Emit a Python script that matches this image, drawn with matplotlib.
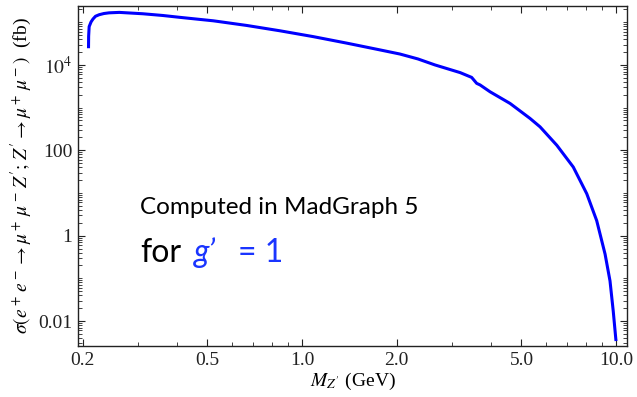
import matplotlib
matplotlib.use("Agg")
import matplotlib.pyplot as plt
from matplotlib.ticker import FixedLocator, NullFormatter, FixedFormatter

# cross section vs Z' mass
mass = [0.209, 0.2092, 0.21, 0.213, 0.216, 0.22, 0.226, 0.234, 0.243, 0.262, 0.311, 0.36,
        0.409, 0.522, 0.667, 0.851, 1.086, 1.388, 1.77, 2.05, 2.34, 2.65, 3.19, 3.47,
        3.6, 3.69, 3.97, 4.6, 5.32, 5.73, 6.48, 7.31, 8.07, 8.68, 9.23, 9.57, 9.8, 10.0]
sigma = [2.46e4, 4.7e4, 7.9e4, 1.02e5, 1.19e5, 1.38e5, 1.5e5, 1.6e5, 1.66e5, 1.7e5, 1.58e5, 1.44e5,
         1.30e5, 1.08e5, 8.4e4, 6.3e4, 4.6e4, 3.24e4, 2.25e4, 1.8e4, 1.38e4, 1.0e4, 6.6e3, 5.1e3,
         3.7e3, 3.4e3, 2.35e3, 1.25e3, 560, 354, 131, 40.5, 9.6, 2.25, 0.37, 0.087, 0.017, 0.0034]

xticks = [0.2, 0.5, 1.0, 2.0, 5.0, 10.0]
xlabels = ["0.2", "0.5", "1.0", "2.0", "5.0", "10.0"]
yticks = [0.01, 1, 100, 1e4]
ylabels = ["0.01", "1", "100", r"$10^4$"]

plt.rcParams['font.family'] = ['Liberation Serif', 'DejaVu Serif']
plt.rcParams['mathtext.fontset'] = 'stix'

fig = plt.figure(figsize=(6.37, 3.97), dpi=100)
ax = fig.add_axes([78 / 637, 1 - 346 / 397, 549 / 637, 340 / 397])

ax.plot(mass, sigma, color='#0000ff', lw=2.2, solid_capstyle='butt', solid_joinstyle='round')
ax.set_xscale('log')
ax.set_yscale('log')
ax.set_xlim(0.1935, 10.84)
ax.set_ylim(0.0026, 2.4e5)

ax.xaxis.set_major_locator(FixedLocator(xticks))
ax.xaxis.set_major_formatter(FixedFormatter(xlabels))
xminor = [0.3, 0.4, 0.6, 0.7, 0.8, 0.9, 3, 4, 6, 7, 8, 9]
ax.xaxis.set_minor_locator(FixedLocator(xminor))
ax.xaxis.set_minor_formatter(NullFormatter())

ax.yaxis.set_major_locator(FixedLocator(yticks))
ax.yaxis.set_major_formatter(FixedFormatter(ylabels))
yminor = []
for d in range(-3, 6):
    for s in range(1, 10):
        v = s * 10.0 ** d
        if v not in yticks:
            yminor.append(v)
ax.yaxis.set_minor_locator(FixedLocator(yminor))
ax.yaxis.set_minor_formatter(NullFormatter())

ax.tick_params(which='both', direction='in', top=True, right=True, labelsize=14, colors='#222222')
ax.tick_params(which='major', length=5, width=0.8, pad=4)
ax.tick_params(which='minor', length=3, width=0.6)
for sp in ax.spines.values():
    sp.set_linewidth(1.0)
    sp.set_color('#222222')

ax.set_xlabel(r"$M_{Z'}$ (GeV)", fontsize=14, labelpad=2)
ax.set_ylabel(r"$\sigma(e^+\,e^-\rightarrow\mu^+\,\mu^-\,Z';\,Z'\rightarrow\mu^+\,\mu^-)$  (fb)",
              fontsize=14, labelpad=3)

# annotation text
fig.text(140 / 637, 1 - 214 / 397, "Computed in MadGraph 5", family='Lato', fontsize=17.5,
         color='black', va='baseline')
fig.text(140 / 637, 1 - 262 / 397, "for", family='Lato', fontsize=23,
         color='black', va='baseline')
fig.text(194 / 637, 1 - 262 / 397, "g’", family='Lato', style='italic', fontsize=23,
         color='#1a35ff', va='baseline')
fig.text(238 / 637, 1 - 262 / 397, "= 1", family='Lato', fontsize=23,
         color='#1a35ff', va='baseline')

fig.savefig("out.png", dpi=100)
